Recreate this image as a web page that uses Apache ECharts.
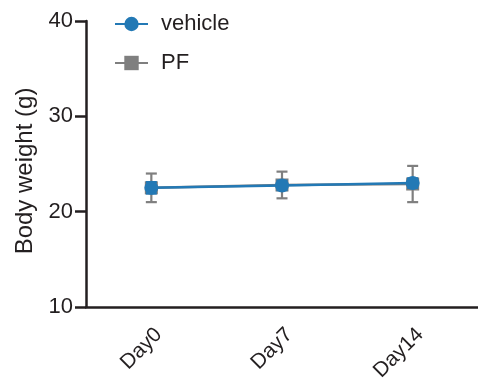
<!DOCTYPE html>
<html><head><meta charset="utf-8">
<script src="https://cdn.jsdelivr.net/npm/echarts@6/dist/echarts.min.js"></script>
<style>html,body{margin:0;padding:0;background:#fff}#c{width:478px;height:389px}</style>
</head><body><div id="c"></div>
<script>
const categories = ['Day0', 'Day7', 'Day14'];
const vehicleMean = [22.5, 22.75, 23.0];
const vehicleErr = [0.6, 0.5, 0.5];
const pfMean = [22.5, 22.8, 22.9];
const pfLow = [21.0, 21.4, 21.0];
const pfHigh = [24.0, 24.2, 24.8];
const yTicks = [10, 20, 30, 40];

const blue = '#2379b5';
const grey = '#7f7f7f';
const axisColor = '#231f20';
const font = 'Liberation Sans, Arial, sans-serif';

function errRender(color) {
  return function (params, api) {
    const x = api.value(0), lo = api.value(1), hi = api.value(2);
    const pLo = api.coord([x, lo]);
    const pHi = api.coord([x, hi]);
    const w = 5.5;
    const st = { stroke: color, lineWidth: 2.2 };
    return { type: 'group', children: [
      { type: 'line', shape: { x1: pLo[0], y1: pLo[1], x2: pHi[0], y2: pHi[1] }, style: st },
      { type: 'line', shape: { x1: pLo[0] - w, y1: pLo[1], x2: pLo[0] + w, y2: pLo[1] }, style: st },
      { type: 'line', shape: { x1: pHi[0] - w, y1: pHi[1], x2: pHi[0] + w, y2: pHi[1] }, style: st }
    ]};
  };
}

const pfErrData = categories.map((c, i) => [i, pfLow[i], pfHigh[i]]);
const vehErrData = categories.map((c, i) => [i, vehicleMean[i] - vehicleErr[i], vehicleMean[i] + vehicleErr[i]]);

const chart = echarts.init(document.getElementById('c'), null, { renderer: 'canvas' });
chart.setOption({
  animation: false,
  backgroundColor: '#fff',
  grid: { left: 86, top: 21, width: 400, height: 286, containLabel: false },
  legend: {
    orient: 'vertical', left: 109, top: 8, itemGap: 17,
    itemWidth: 33, itemHeight: 18,
    textStyle: { fontFamily: font, fontSize: 22, color: '#231f20', padding: [0, 0, 0, 8] },
    data: ['vehicle', 'PF']
  },
  xAxis: {
    type: 'category', data: categories, boundaryGap: true,
    axisLine: { lineStyle: { color: axisColor, width: 2.5 } },
    axisTick: { alignWithLabel: true, length: 10, lineStyle: { color: axisColor, width: 2.5 } },
    axisLabel: { rotate: 45, fontFamily: font, fontSize: 21, color: '#231f20', margin: 17, verticalAlign: 'top' }
  },
  yAxis: {
    type: 'value', min: 10, max: 40, interval: 10,
    name: 'Body weight (g)', nameLocation: 'middle', nameGap: 35, nameRotate: 90,
    nameTextStyle: { fontFamily: font, fontSize: 24, color: '#231f20', padding: [0, 14, 0, 0] },
    axisLine: { show: true, lineStyle: { color: axisColor, width: 2.5 } },
    axisTick: { show: true, length: 11, lineStyle: { color: axisColor, width: 2.5 } },
    axisLabel: { fontFamily: font, fontSize: 22, color: '#231f20', margin: 13,
      formatter: v => yTicks.includes(v) ? String(v) : '' },
    splitLine: { show: false }
  },
  series: [
    { type: 'custom', name: 'pfErr', data: pfErrData, renderItem: errRender(grey), z: 1, silent: true },
    { type: 'line', name: 'PF', data: pfMean, symbol: 'rect', symbolSize: 13,
      itemStyle: { color: grey }, lineStyle: { color: grey, width: 2.5 }, z: 2 },
    { type: 'custom', name: 'vehErr', data: vehErrData, renderItem: errRender(blue), z: 3, silent: true },
    { type: 'line', name: 'vehicle', data: vehicleMean, symbol: 'circle', symbolSize: 14,
      itemStyle: { color: blue }, lineStyle: { color: blue, width: 2.5 }, z: 4 }
  ]
});
</script></body></html>
